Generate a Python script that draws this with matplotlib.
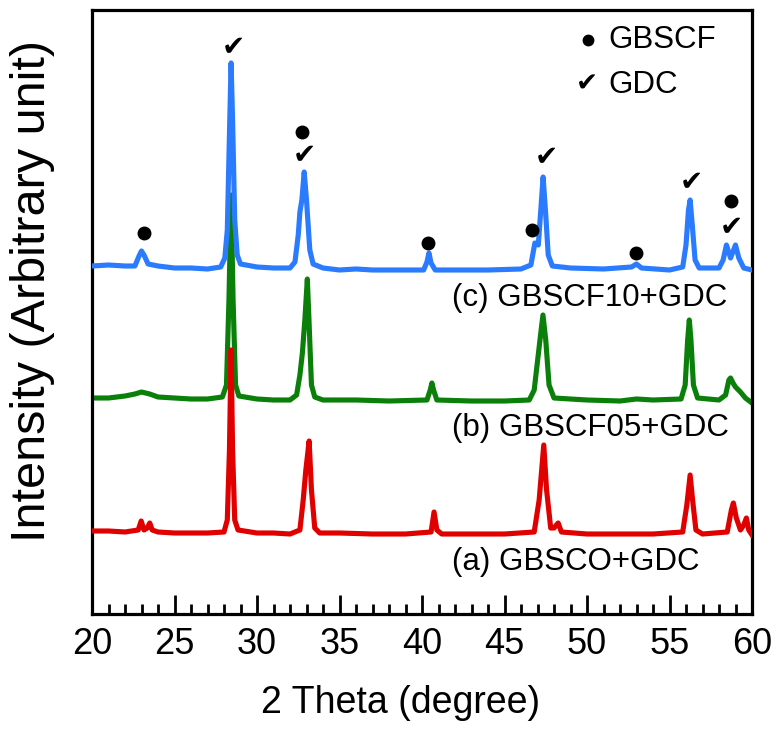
import matplotlib
matplotlib.use("Agg")
import matplotlib.pyplot as plt
from matplotlib.ticker import MultipleLocator

plt.rcParams['font.family'] = ['Liberation Sans', 'DejaVu Sans']

# ---- data (2 theta in degrees, intensity in arbitrary units, offsets included) ----
theta_c = [20.0, 21.0, 22.0, 22.6, 22.85, 23.0, 23.15, 23.4, 24.0, 25.0, 26.0, 27.0, 27.8,
           28.05, 28.2, 28.35, 28.43, 28.52, 28.65, 28.8, 29.0, 30.0, 31.0, 32.0, 32.3,
           32.5, 32.6, 32.72, 32.86, 33.0, 33.2, 33.4, 34.0, 35.0, 36.0, 37.0, 38.0, 39.0,
           40.1, 40.3, 40.42, 40.55, 40.8, 42.0, 44.0, 46.0, 46.6, 46.84, 47.05, 47.2,
           47.34, 47.5, 47.65, 47.9, 49.0, 51.0, 52.7, 53.0, 53.3, 55.0, 55.8, 56.0, 56.15,
           56.25, 56.38, 56.55, 56.8, 58.0, 58.25, 58.45, 58.7, 59.0, 59.2, 59.5, 60.0]
inten_c = [348, 349, 348, 348, 358, 363, 359, 350, 348, 346, 346, 345, 347,
           356, 384, 494, 551, 494, 394, 359, 350, 347, 346, 346, 352,
           379, 402, 414, 442, 414, 364, 350, 346, 344, 345, 344, 344, 344,
           344, 352, 361, 351, 344, 344, 344, 345, 349, 371, 369, 404,
           437, 399, 359, 348, 346, 345, 347, 350, 346, 344, 347, 369, 404,
           414, 389, 354, 346, 346, 354, 369, 356, 369, 356, 346, 344]

theta_b = [20.0, 21.0, 22.0, 22.6, 23.0, 23.5, 24.0, 25.0, 26.0, 27.0, 27.9, 28.15, 28.3,
           28.43, 28.55, 28.7, 28.9, 30.0, 31.0, 32.0, 32.4, 32.6, 32.75, 32.9, 33.05,
           33.15, 33.3, 33.5, 34.0, 36.0, 38.0, 40.3, 40.5, 40.6, 40.7, 40.9, 43.0, 45.0,
           46.5, 46.8, 46.96, 47.15, 47.33, 47.5, 47.7, 48.0, 50.0, 52.0, 53.0, 54.0, 55.7,
           55.95, 56.1, 56.2, 56.3, 56.45, 56.7, 58.0, 58.4, 58.6, 58.7, 58.85, 59.0, 59.3,
           59.6, 60.0]
inten_b = [216, 216, 218, 220, 222, 220, 217, 216, 215, 215, 217, 229, 314,
           419, 314, 229, 218, 215, 214, 214, 219, 239, 261, 294, 335,
           294, 229, 217, 214, 214, 213, 214, 224, 231, 224, 214, 213, 213,
           214, 224, 247, 274, 299, 274, 229, 216, 214, 213, 215, 214, 215,
           229, 274, 294, 274, 229, 216, 214, 219, 234, 236, 231, 227, 222,
           216, 211]

theta_a = [20.0, 21.0, 22.0, 22.8, 22.98, 23.15, 23.35, 23.5, 23.65, 24.0, 25.0, 26.0, 27.0,
           28.0, 28.2, 28.33, 28.43, 28.52, 28.65, 28.85, 30.0, 31.0, 32.0, 32.6, 32.8,
           32.96, 33.16, 33.3, 33.5, 33.8, 35.0, 37.0, 39.0, 40.55, 40.73, 40.9, 41.2, 43.0,
           45.0, 46.8, 47.1, 47.38, 47.55, 47.8, 48.0, 48.25, 48.45, 50.0, 52.0, 54.0, 55.8,
           56.05, 56.25, 56.4, 56.6, 57.0, 58.5, 58.75, 58.87, 59.05, 59.3, 59.5, 59.66,
           59.8, 60.0]
inten_a = [83, 83, 82, 84, 93, 84, 86, 91, 84, 82, 81, 81, 81,
           82, 94, 164, 264, 164, 94, 84, 81, 81, 80, 84, 114,
           144, 173, 124, 86, 81, 81, 80, 80, 82, 102, 84, 80, 80,
           80, 82, 114, 169, 124, 86, 86, 91, 82, 80, 80, 80, 82,
           109, 139, 114, 84, 80, 82, 104, 111, 96, 84, 89, 96,
           84, 79]

labels = ["(a) GBSCO+GDC", "(b) GBSCF05+GDC", "(c) GBSCF10+GDC"]
colors = ["#e00000", "#0a800a", "#2b7bff"]

# phase markers for pattern (c)
gbscf_theta = [23.18, 32.72, 40.38, 46.66, 52.96, 58.71]
gbscf_y = [381, 482, 371, 384, 361, 413]
gdc_theta = [28.6, 32.86, 47.55, 56.3, 58.77]
gdc_y = [567, 459, 457, 432, 387]

xticks = [20, 25, 30, 35, 40, 45, 50, 55, 60]

# ---- figure ----
fig = plt.figure(figsize=(7.76, 7.29), dpi=100)
ax = fig.add_axes([92 / 776, 1 - 614 / 729, 660 / 776, (614 - 9.5) / 729])

lw = 3.7
ax.plot(theta_b, inten_b, color=colors[1], lw=lw, solid_joinstyle='round', zorder=2)
ax.plot(theta_a, inten_a, color=colors[0], lw=lw, solid_joinstyle='round', zorder=3)
ax.plot(theta_c, inten_c, color=colors[2], lw=lw, solid_joinstyle='round', zorder=4)

ax.plot(gbscf_theta, gbscf_y, 'o', color='black', markersize=9, zorder=5)
for t, y in zip(gdc_theta, gdc_y):
    ax.text(t, y, '\u2714', ha='center', va='center', fontsize=20,
            family='DejaVu Sans', color='black', zorder=5)

# legend-like key
ax.plot([50.06], [574], 'o', color='black', markersize=7.5, zorder=5)
ax.text(51.3, 574, 'GBSCF', ha='left', va='center', fontsize=22.5)
ax.text(50.0, 529, '\u2714', ha='center', va='center', fontsize=19,
        family='DejaVu Sans', color='black')
ax.text(51.3, 529, 'GDC', ha='left', va='center', fontsize=22.5)

# series labels
ax.text(41.8, 52, labels[0], ha='left', va='center', fontsize=22.5)
ax.text(41.8, 186, labels[1], ha='left', va='center', fontsize=22.5)
ax.text(41.8, 316, labels[2], ha='left', va='center', fontsize=22.5)

ax.set_xlim(20, 60)
ax.set_ylim(0, 604.5)
ax.set_xticks(xticks)
ax.set_xticklabels([str(v) for v in xticks])
ax.xaxis.set_minor_locator(MultipleLocator(1))
ax.set_yticks([])
ax.tick_params(axis='x', which='major', direction='in', length=14, width=2,
               labelsize=26, pad=9)
ax.tick_params(axis='x', which='minor', direction='in', length=7, width=2)
for s in ax.spines.values():
    s.set_linewidth(2.3)

fig.text(401 / 776, 1 - 703 / 729, '2 Theta (degree)', ha='center', va='center', fontsize=27)
fig.text(33 / 776, 1 - 291 / 729, 'Intensity (Arbitrary unit)', ha='center', va='center',
         rotation=90, fontsize=35)

fig.savefig('out.png', dpi=100)
